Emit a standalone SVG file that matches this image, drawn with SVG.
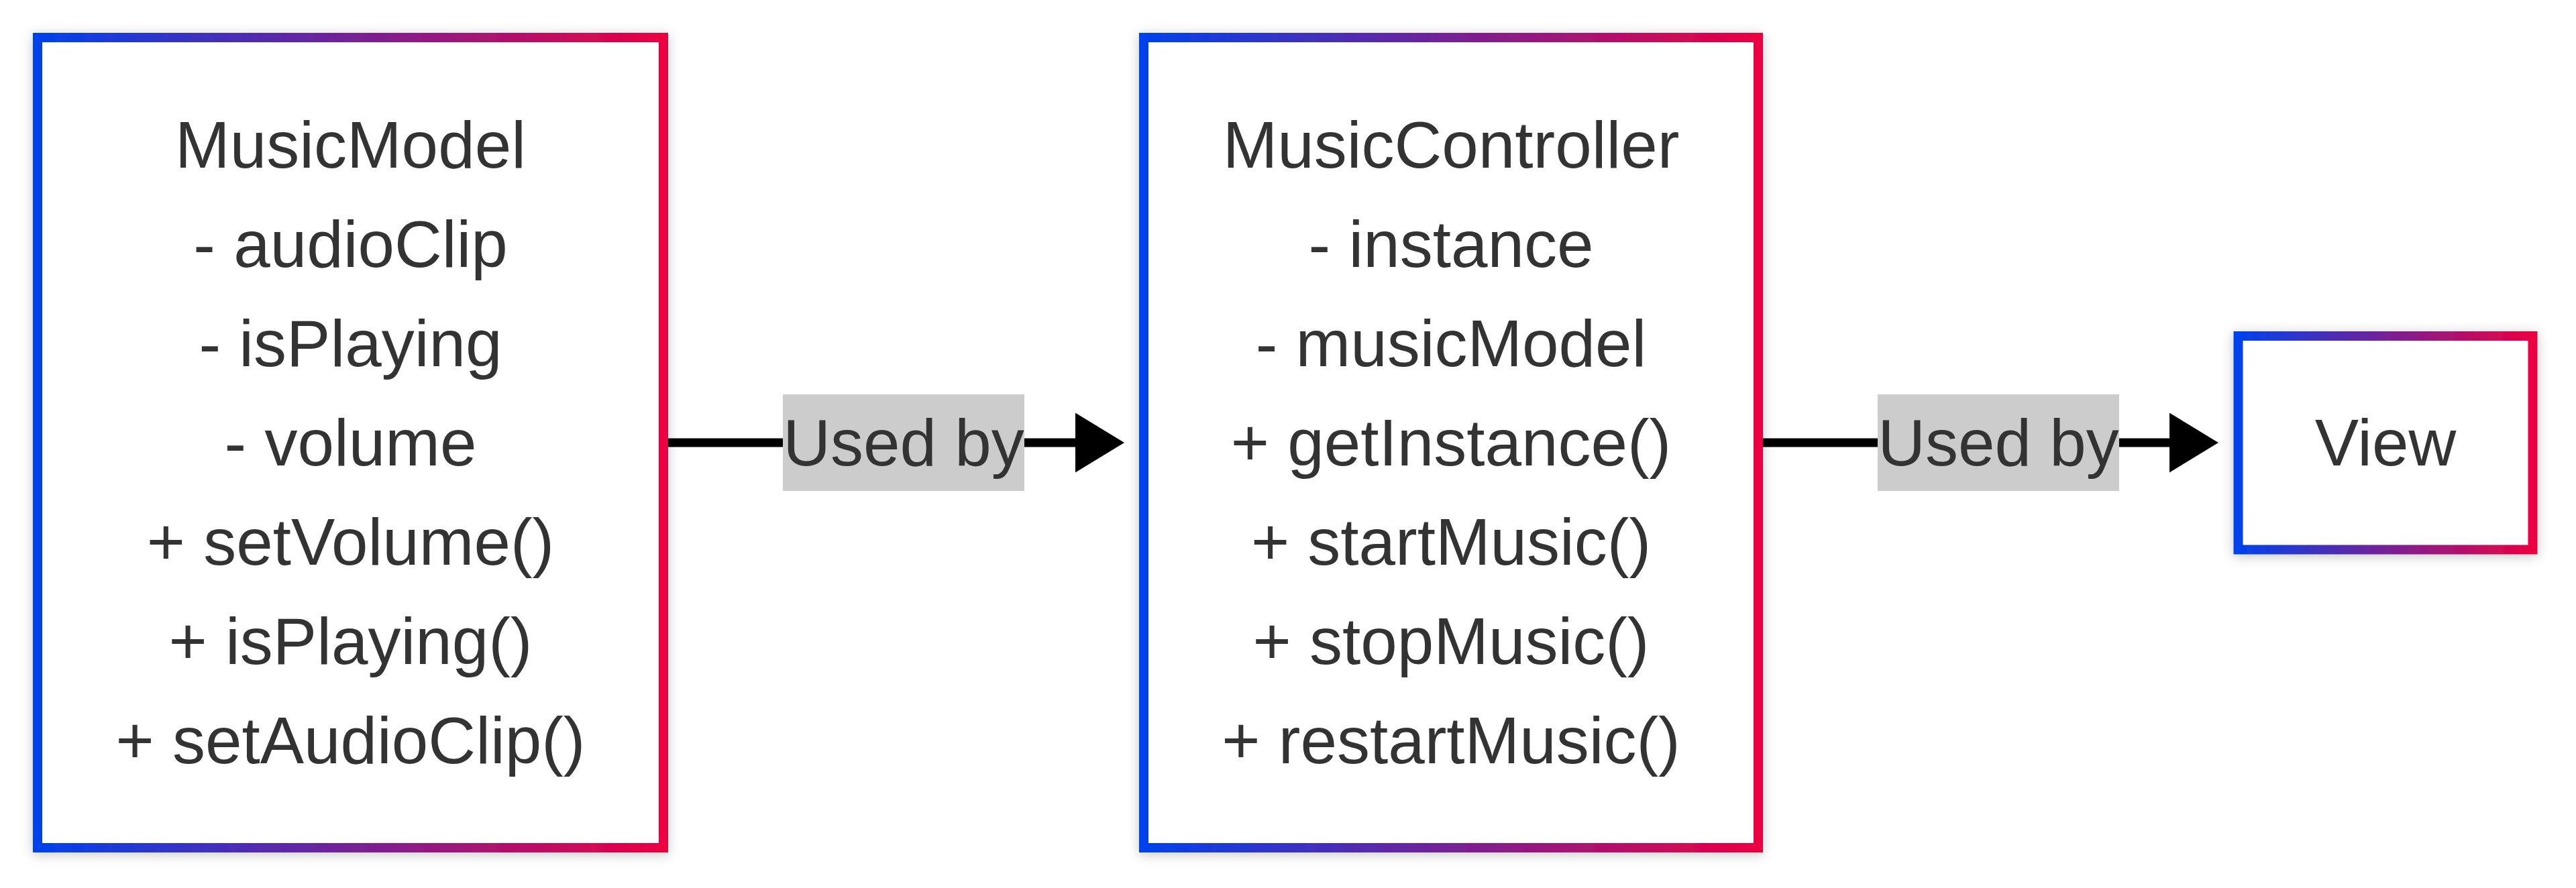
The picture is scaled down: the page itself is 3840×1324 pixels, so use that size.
<svg xmlns="http://www.w3.org/2000/svg" width="3840" height="1324" viewBox="0 0 3840 1324">
  <defs>
    <linearGradient id="grad" x1="0" y1="0" x2="1" y2="0">
      <stop offset="0" stop-color="#0042eb"/>
      <stop offset="1" stop-color="#eb0042"/>
    </linearGradient>
    <filter id="shadow" x="-20%" y="-20%" width="140%" height="140%">
      <feDropShadow dx="0" dy="3" stdDeviation="9" flood-color="#000000" flood-opacity="0.22"/>
    </filter>
    <marker id="arrow" markerUnits="userSpaceOnUse" viewBox="0 0 73 89" markerWidth="73" markerHeight="89" refX="0" refY="44.5" orient="auto">
      <path d="M0,0 L73,44.5 L0,89 Z" fill="#000000"/>
    </marker>
  </defs>
  <style>
    .box { fill: #ffffff; stroke: url(#grad); stroke-width: 14; filter: url(#shadow); }
    .txt { font-family: "Liberation Sans", Arial, sans-serif; font-size: 98px; fill: #333333; text-anchor: middle; }
    .edge { fill: none; stroke: #000000; stroke-width: 13; }
    .lblbg { fill: #cccccc; }
  </style>
  <rect width="3840" height="1324" fill="#ffffff"/>

  <g id="connectors">
    <g id="edge-model-controller">
      <path class="edge" d="M996,660 L1603,660" marker-end="url(#arrow)"/>
      <rect class="lblbg" x="1167" y="588" width="360" height="144"/>
      <text class="txt" x="1347" y="694">Used by</text>
    </g>
    <g id="edge-controller-view">
      <path class="edge" d="M2628,660 L3234,660" marker-end="url(#arrow)"/>
      <rect class="lblbg" x="2799" y="588" width="360" height="144"/>
      <text class="txt" x="2979" y="694">Used by</text>
    </g>
  </g>

  <g id="MusicModel">
    <rect class="box" x="56" y="56" width="933" height="1208"/>
    <text class="txt" x="522.5" y="250">MusicModel</text>
    <text class="txt" x="522.5" y="398">- audioClip</text>
    <text class="txt" x="522.5" y="546">- isPlaying</text>
    <text class="txt" x="522.5" y="694">- volume</text>
    <text class="txt" x="522.5" y="842">+ setVolume()</text>
    <text class="txt" x="522.5" y="990">+ isPlaying()</text>
    <text class="txt" x="522.5" y="1138">+ setAudioClip()</text>
  </g>

  <g id="MusicController">
    <rect class="box" x="1705" y="56" width="916" height="1208"/>
    <text class="txt" x="2163" y="250">MusicController</text>
    <text class="txt" x="2163" y="398">- instance</text>
    <text class="txt" x="2163" y="546">- musicModel</text>
    <text class="txt" x="2163" y="694">+ getInstance()</text>
    <text class="txt" x="2163" y="842">+ startMusic()</text>
    <text class="txt" x="2163" y="990">+ stopMusic()</text>
    <text class="txt" x="2163" y="1138">+ restartMusic()</text>
  </g>

  <g id="View">
    <rect class="box" x="3336.5" y="501" width="439" height="318.5"/>
    <text class="txt" x="3556" y="694">View</text>
  </g>
</svg>
